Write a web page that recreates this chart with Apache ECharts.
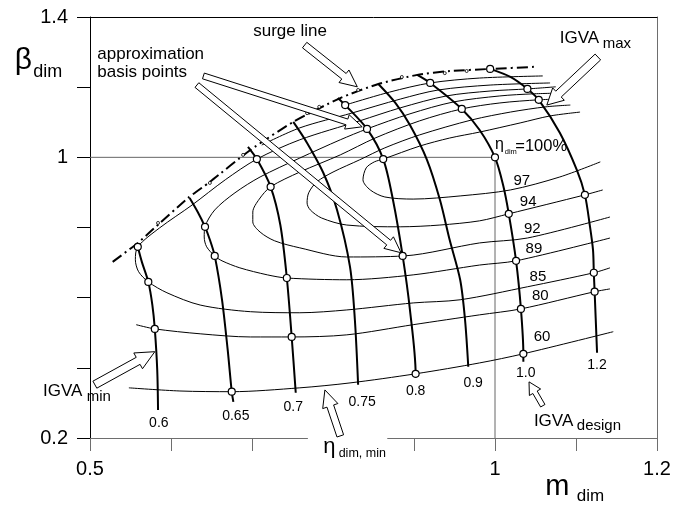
<!DOCTYPE html>
<html><head><meta charset="utf-8">
<script src="https://cdn.jsdelivr.net/npm/echarts@6/dist/echarts.min.js"></script>
<style>html,body{margin:0;padding:0;background:#fff}#c{width:686px;height:506px}</style>
</head><body><div id="c"></div>
<script>
const FONT = '"Liberation Sans", Arial, Helvetica, sans-serif';

// ---- axis tick labels ----
const xTickLabels = [0.5, 1, 1.2];
const yTickLabels = [0.2, 1, 1.4];

// ---- IGVA speed lines (m_dim, beta_dim) ----
const igva060 = [[0.559,0.745],[0.564,0.702],[0.572,0.645],[0.577,0.579],[0.580,0.511],[0.583,0.394],[0.584,0.280]];
const igva065 = [[0.623,0.884],[0.633,0.844],[0.642,0.802],[0.648,0.765],[0.654,0.719],[0.663,0.594],[0.670,0.451],[0.675,0.332],[0.677,0.303]];
const igva070 = [[0.695,1.030],[0.706,0.995],[0.723,0.916],[0.735,0.807],[0.743,0.656],[0.749,0.488],[0.754,0.329]];
const igva075 = [[0.751,1.101],[0.768,1.041],[0.788,0.956],[0.805,0.850],[0.821,0.688],[0.827,0.537],[0.831,0.352]];
const igva080 = [[0.806,1.169],[0.815,1.149],[0.842,1.081],[0.862,0.995],[0.874,0.879],[0.886,0.719],[0.895,0.565],[0.902,0.383],[0.902,0.372]];
const igva090 = [[0.856,1.209],[0.877,1.155],[0.895,1.092],[0.916,0.993],[0.932,0.879],[0.944,0.765],[0.957,0.651],[0.963,0.537],[0.967,0.403]];
const igva100 = [[0.904,1.235],[0.920,1.212],[0.959,1.138],[0.981,1.078],[1.000,1.000],[1.010,0.921],[1.017,0.839],[1.026,0.705],[1.032,0.568],[1.035,0.440],[1.035,0.417]];
const igva120 = [[0.994,1.252],[1.019,1.229],[1.040,1.195],[1.054,1.164],[1.080,1.070],[1.101,0.964],[1.111,0.893],[1.117,0.807],[1.121,0.736],[1.122,0.671],[1.123,0.617],[1.126,0.443]];
const igvaNames = ['0.6','0.65','0.7','0.75','0.8','0.9','1.0','1.2'];
const igvaLabelAt = [[0.585,0.243],[0.680,0.263],[0.751,0.289],[0.836,0.303],[0.902,0.334],[0.973,0.357],[1.038,0.386],[1.126,0.409]];

// ---- iso-efficiency lines ----
const eta97 = [[1.130,0.987],[1.080,0.944],[1.019,0.907],[0.957,0.890],[0.899,0.881],[0.864,0.887],[0.846,0.907],[0.837,0.936],[0.841,0.970],[0.851,0.987],[0.862,0.995],[0.907,1.032],[0.944,1.055],[0.981,1.072],[1.031,1.098],[1.068,1.118],[1.105,1.129]];
const eta94 = [[1.133,0.907],[1.111,0.893],[1.017,0.839],[0.981,0.819],[0.932,0.807],[0.883,0.802],[0.817,0.807],[0.786,0.827],[0.772,0.850],[0.768,0.870],[0.770,0.899],[0.780,0.930],[0.800,0.958],[0.833,0.993],[0.864,1.027],[0.907,1.064],[0.972,1.107],[1.019,1.129],[1.063,1.144],[1.093,1.149]];
const eta92 = [[1.142,0.830],[1.040,0.770],[0.981,0.756],[0.888,0.719],[0.817,0.716],[0.759,0.742],[0.728,0.762],[0.710,0.787],[0.701,0.816],[0.701,0.844],[0.709,0.881],[0.723,0.916],[0.759,0.958],[0.809,1.007],[0.852,1.055],[0.907,1.104],[0.959,1.138],[1.006,1.155],[1.054,1.164],[1.084,1.166]];
const eta89 = [[1.142,0.770],[1.026,0.705],[0.981,0.693],[0.899,0.665],[0.817,0.651],[0.743,0.656],[0.719,0.665],[0.685,0.685],[0.663,0.705],[0.654,0.719],[0.644,0.745],[0.641,0.773],[0.642,0.802],[0.654,0.850],[0.679,0.899],[0.710,0.944],[0.759,0.998],[0.809,1.050],[0.842,1.081],[0.895,1.124],[0.949,1.158],[1.006,1.175],[1.047,1.181],[1.080,1.183]];
const eta85 = [[1.142,0.685],[1.122,0.671],[1.040,0.631],[0.957,0.594],[0.899,0.585],[0.817,0.565],[0.759,0.557],[0.698,0.560],[0.636,0.579],[0.595,0.614],[0.572,0.645],[0.560,0.674],[0.556,0.708],[0.559,0.745],[0.586,0.799],[0.626,0.864],[0.667,0.936],[0.706,0.995],[0.759,1.050],[0.833,1.104],[0.883,1.141],[0.940,1.175],[0.994,1.189],[1.040,1.195],[1.075,1.201]];
const eta80 = [[1.142,0.625],[1.123,0.617],[1.032,0.568],[0.981,0.551],[0.899,0.523],[0.817,0.494],[0.749,0.488],[0.698,0.488],[0.636,0.497],[0.580,0.511],[0.557,0.523]];
const eta60 = [[1.146,0.503],[1.035,0.440],[0.981,0.414],[0.902,0.383],[0.821,0.357],[0.759,0.343],[0.675,0.332],[0.611,0.334],[0.548,0.343]];
const etaUpperA = [[0.815,1.149],[0.870,1.186],[0.920,1.212],[0.981,1.226],[1.059,1.232]];
const etaUpperB = [[0.712,1.035],[0.759,1.084],[0.823,1.126],[0.883,1.166],[0.930,1.192],[0.994,1.206],[1.068,1.212]];
const etaNames = ['97','94','92','89','85','80','60'];
const etaLabelAt = [[1.033,0.934],[1.041,0.874],[1.046,0.797],[1.048,0.740],[1.053,0.660],[1.056,0.606],[1.058,0.487]];

// ---- surge line ----
const surge = [[0.528,0.702],[0.559,0.756],[0.574,0.787],[0.621,0.884],[0.648,0.930],[0.698,1.021],[0.751,1.101],[0.809,1.169],[0.856,1.209],[0.904,1.235],[0.944,1.246],[0.994,1.252],[1.049,1.258]];
const surgeMarks = [[0.584,0.813],[0.648,0.927],[0.689,1.007],[0.768,1.126],[0.783,1.144],[0.831,1.192],[0.885,1.229],[0.938,1.240],[0.965,1.246]];

// ---- approximation basis points ----
const basisPts = [[0.559,0.745],[0.572,0.645],[0.580,0.511],[0.642,0.802],[0.654,0.719],[0.675,0.332],[0.706,0.995],[0.723,0.916],[0.743,0.656],[0.749,0.488],[0.815,1.149],[0.842,1.081],[0.862,0.995],[0.886,0.719],[0.902,0.383],[0.920,1.212],[0.959,1.138],[1.000,1.000],[1.017,0.839],[1.026,0.705],[1.032,0.568],[1.035,0.440],[0.994,1.252],[1.040,1.195],[1.054,1.164],[1.111,0.893],[1.122,0.671],[1.123,0.617]];

// ---- design reference lines ----
const refLine = [[0.5,1],[1,1],[1,0.2]];

const chart = echarts.init(document.getElementById('c'), null, {renderer:'canvas'});
const fmt = (list) => (v) => { const t = list.find(a => Math.abs(a - v) < 1e-6); return t === undefined ? '' : String(t); };

const thick = (d) => ({type:'line', data:d, showSymbol:false, smooth:0.3, silent:true, lineStyle:{color:'#000', width:2}, z:3});
const thin = (d) => ({type:'line', data:d, showSymbol:false, smooth:0.3, silent:true, lineStyle:{color:'#000', width:1}, z:2});

const series = [
  {type:'line', data:refLine, showSymbol:false, silent:true, lineStyle:{color:'#666', width:1}, z:1},
  ...[eta97, eta94, eta92, eta89, eta85, eta80, eta60, etaUpperA, etaUpperB].map(thin),
  ...[igva060, igva065, igva070, igva075, igva080, igva090, igva100, igva120].map(thick),
  {type:'line', data:surge, showSymbol:false, smooth:0.2, silent:true, lineStyle:{color:'#000', width:2, type:[11,4,2,4]}, z:3},
  {type:'scatter', data:surgeMarks, symbol:'circle', symbolSize:3, silent:true, itemStyle:{color:'#fff', borderColor:'#000', borderWidth:0.8, opacity:1}, z:4},
  {type:'scatter', data:basisPts, symbol:'circle', symbolSize:7, silent:true, itemStyle:{color:'#fff', borderColor:'#000', borderWidth:1.2, opacity:1}, z:5}
];

chart.setOption({
  animation:false,
  backgroundColor:'#fff',
  grid:{left:90, right:29, top:17, bottom:68},
  xAxis:[
    {type:'value', min:0.5, max:1.2, interval:0.1, position:'bottom',
     axisLine:{show:true, onZero:false, lineStyle:{color:'#6e6e6e', width:1}},
     axisTick:{show:true, inside:false, length:13, lineStyle:{color:'#6e6e6e'}},
     axisLabel:{margin:21, fontSize:20, color:'#000', fontFamily:FONT, formatter:fmt(xTickLabels)},
     splitLine:{show:false}},
    {type:'value', min:0.5, max:1.2, position:'top',
     axisLine:{show:true, onZero:false, lineStyle:{color:'#000', width:1}},
     axisTick:{show:false}, axisLabel:{show:false}, splitLine:{show:false}}
  ],
  yAxis:[
    {type:'value', min:0.2, max:1.4, interval:0.2, position:'left',
     axisLine:{show:true, onZero:false, lineStyle:{color:'#000', width:1}},
     axisTick:{show:true, inside:false, length:13, lineStyle:{color:'#000'}},
     axisLabel:{margin:22, fontSize:20, color:'#000', fontFamily:FONT, formatter:fmt(yTickLabels)},
     splitLine:{show:false}},
    {type:'value', min:0.2, max:1.4, position:'right',
     axisLine:{show:true, onZero:false, lineStyle:{color:'#6e6e6e', width:1}},
     axisTick:{show:false}, axisLabel:{show:false}, splitLine:{show:false}}
  ],
  series: series
});

// ---- annotations (anchored in data coordinates) ----
const P = (d) => chart.convertToPixel({xAxisIndex:0, yAxisIndex:0}, d);
const texts = [
  {t:'surge line', at:[0.747,1.360], size:17, align:'center'},
  {t:'approximation', at:[0.509,1.295], size:17, align:'left'},
  {t:'basis points', at:[0.509,1.243], size:17, align:'left'},
  {t:'IGVA', at:[1.080,1.340], size:17, align:'left'},
  {t:'max', at:[1.133,1.323], size:15, align:'left'},
  {t:'IGVA', at:[0.442,0.334], size:17, align:'left'},
  {t:'min', at:[0.496,0.317], size:15, align:'left'},
  {t:'IGVA', at:[1.048,0.248], size:17, align:'left'},
  {t:'design', at:[1.101,0.235], size:15, align:'left'},
  {t:'β', at:[0.407,1.276], size:30, align:'left'},
  {t:'dim', at:[0.430,1.244], size:18, align:'left'},
  {t:'m', at:[1.062,0.061], size:29, align:'left'},
  {t:'dim', at:[1.101,0.033], size:17, align:'left'},
  {t:'η', at:[0.788,0.175], size:22, align:'left'},
  {t:'dim, min', at:[0.807,0.156], size:12.5, align:'left'},
  {t:'η', at:[1.000,1.037], size:16, align:'left'},
  {t:'dim', at:[1.012,1.015], size:7.5, align:'left'},
  {t:'=100%', at:[1.025,1.032], size:16.5, align:'left'}
];
igvaNames.forEach((n,i) => texts.push({t:n, at:igvaLabelAt[i], size:14, align:'center'}));
etaNames.forEach((n,i) => texts.push({t:n, at:etaLabelAt[i], size:15, align:'center'}));

const arrows = [
  {tail:[0.765,1.320], tip:[0.830,1.201], sw:3.5, hw:8, hl:17},
  {tail:[0.640,1.232], tip:[0.836,1.087], sw:3, hw:7.5, hl:16},
  {tail:[0.632,1.206], tip:[0.884,0.728], sw:3, hw:7.5, hl:16},
  {tail:[1.127,1.286], tip:[1.064,1.149], sw:4, hw:8.5, hl:16},
  {tail:[0.506,0.352], tip:[0.580,0.446], sw:4, hw:9, hl:19},
  {tail:[1.059,0.292], tip:[1.042,0.360], sw:2.5, hw:6.5, hl:12},
  {tail:[0.809,0.206], tip:[0.790,0.337], sw:3.5, hw:8, hl:17}
];
const axisGap = [[0.769,0.2],[0.867,0.2]];

function arrowPts(t, h, sw, hw, hl){
  const dx=h[0]-t[0], dy=h[1]-t[1], L=Math.hypot(dx,dy);
  const ux=dx/L, uy=dy/L, nx=-uy, ny=ux;
  const bx=h[0]-ux*hl, by=h[1]-uy*hl;
  return [[t[0]+nx*sw,t[1]+ny*sw],[bx+nx*sw,by+ny*sw],[bx+nx*hw,by+ny*hw],[h[0],h[1]],
          [bx-nx*hw,by-ny*hw],[bx-nx*sw,by-ny*sw],[t[0]-nx*sw,t[1]-ny*sw]];
}

const g = [];
const g0 = P(axisGap[0]), g1 = P(axisGap[1]);
g.push({type:'rect', shape:{x:g0[0], y:g0[1]-3, width:g1[0]-g0[0], height:20}, style:{fill:'#fff'}, z:100});
arrows.forEach(a => {
  g.push({type:'polygon', shape:{points:arrowPts(P(a.tail), P(a.tip), a.sw, a.hw, a.hl)},
          style:{fill:'#fff', stroke:'#000', lineWidth:1}, z:110});
});
texts.forEach(o => {
  const p = P(o.at);
  g.push({type:'text', x:p[0], y:p[1], z:120,
          style:{text:o.t, fontSize:o.size, fontFamily:FONT, fill:'#000', align:o.align, verticalAlign:'middle'}});
});
chart.setOption({graphic:g});
</script>
</body></html>
